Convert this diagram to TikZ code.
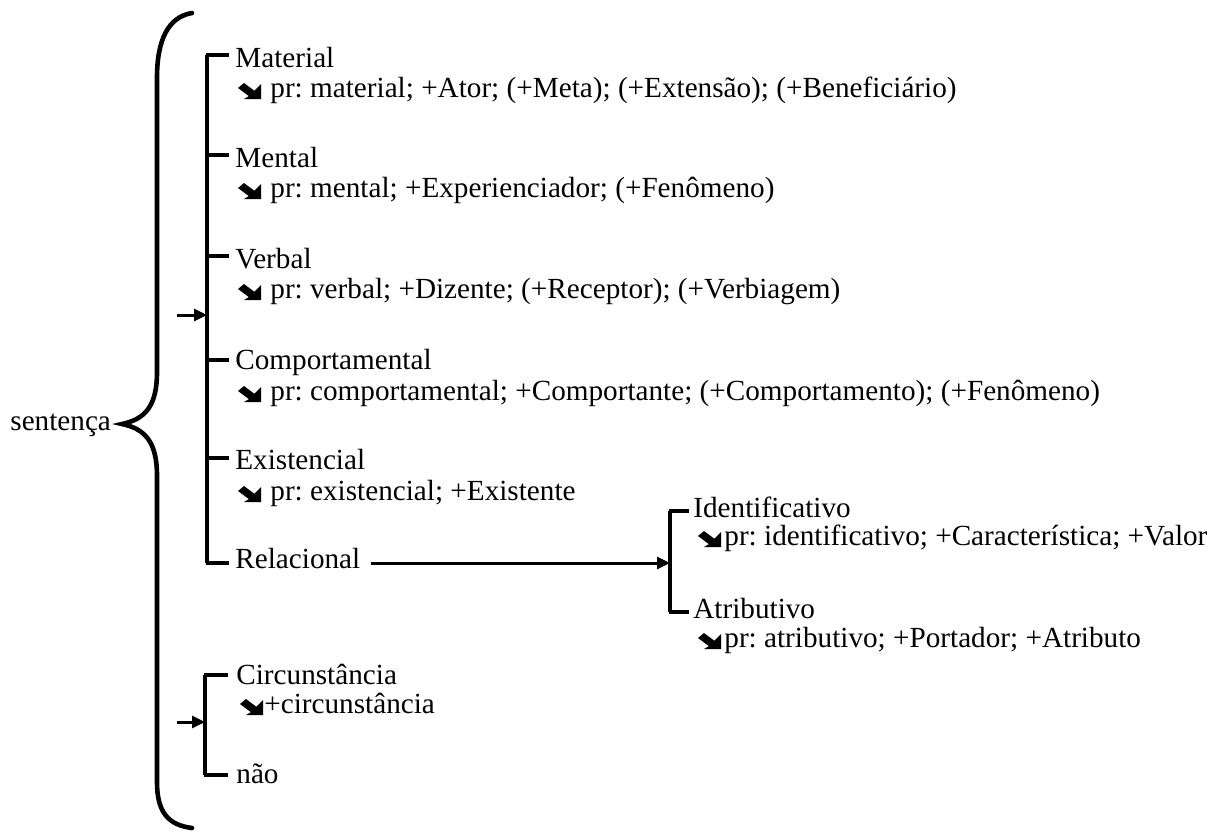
\documentclass[tikz,border=0pt]{standalone}
\usepackage{fontspec}
\setmainfont{Liberation Serif}
\usetikzlibrary{arrows.meta}
\begin{document}
\begin{tikzpicture}[x=0.5pt,y=-0.5pt,
  txt/.style={anchor=base west,inner sep=0pt,font=\fontsize{14.6}{16}\selectfont\frenchspacing},
  brk/.style={line width=1.8pt},
  brace/.style={line width=2.3pt,line cap=round},
  arr/.style={line width=1.5pt,-{Triangle[length=6.5pt,width=6pt]}},
  sea/.pic={\fill (23,2) -- (23,-13) -- (16.3,-6.3) -- (6,-14) -- (0,-9) -- (10.9,-0.9) -- (6,2) -- cycle;}]
\useasboundingbox (0,0) rectangle (1225,832);

% sentence label and brace
\node[txt] (sent) at (10,430) {sentença};
\draw[brace] (192,13) .. controls (168,17) and (157,40) .. (157,78)
  -- (157,372) .. controls (157,405) and (146,419) .. (122,424)
  .. controls (146,429) and (157,443) .. (157,476)
  -- (157,782) .. controls (157,812) and (168,825) .. (192,828);

% first bracket (process types)
\coordinate (b1t) at (207,55);
\coordinate (b1b) at (207,563);
\coordinate (b1in) at (207,315);
\draw[brk] (b1t) -- (b1b);
\foreach \y in {55,155,256,360,458,563} \draw[brk] (205.5,\y) -- (229,\y);
\coordinate (a1s) at (177,315);
\draw[arr] (a1s) -- (b1in);

\node[txt] (mat) at (235,67) {Material};
\pic at (238,97) {sea};
\node[txt] (matf) at (270,97) {pr: material; +Ator; (+Meta); (+Extensão); (+Beneficiário)};

\node[txt] (men) at (235,167) {Mental};
\pic at (238,197) {sea};
\node[txt] (menf) at (270,197) {pr: mental; +Experienciador; (+Fenômeno)};

\node[txt] (ver) at (235,268) {Verbal};
\pic at (238,298) {sea};
\node[txt] (verf) at (270,298) {pr: verbal; +Dizente; (+Receptor); (+Verbiagem)};

\node[txt] (com) at (235,369) {Comportamental};
\pic at (238,400) {sea};
\node[txt] (comf) at (270,400) {pr: comportamental; +Comportante; (+Comportamento); (+Fenômeno)};

\node[txt] (exi) at (235,469) {Existencial};
\pic at (238,500) {sea};
\node[txt] (exif) at (270,500) {pr: existencial; +Existente};

\node[txt] (rel) at (235,568) {Relacional};

% second bracket (relational)
\coordinate (b2t) at (670,511);
\coordinate (b2b) at (670,612);
\coordinate (b2in) at (670,563);
\draw[brk] (b2t) -- (b2b);
\foreach \y in {511,612} \draw[brk] (668.5,\y) -- (689,\y);
\draw[arr] ([xshift=5pt]rel.east |- b2in) -- (b2in);

\node[txt] (ide) at (693,517) {Identificativo};
\pic at (698,545) {sea};
\node[txt] (idef) at (724,545) {pr: identificativo; +Característica; +Valor};

\node[txt] (atr) at (693,618) {Atributivo};
\pic at (698,647) {sea};
\node[txt] (atrf) at (724,647) {pr: atributivo; +Portador; +Atributo};

% third bracket (circumstance)
\coordinate (b3t) at (205,675);
\coordinate (b3b) at (205,775);
\coordinate (b3in) at (205,722);
\draw[brk] (b3t) -- (b3b);
\foreach \y in {675,775} \draw[brk] (203.5,\y) -- (228,\y);
\coordinate (a3s) at (177,722);
\draw[arr] (a3s) -- (b3in);

\node[txt] (cir) at (236,684) {Circunstância};
\pic at (240,713) {sea};
\node[txt] (cirf) at (264,713) {+circunstância};
\node[txt] (nao) at (236,783) {não};
\end{tikzpicture}
\end{document}
